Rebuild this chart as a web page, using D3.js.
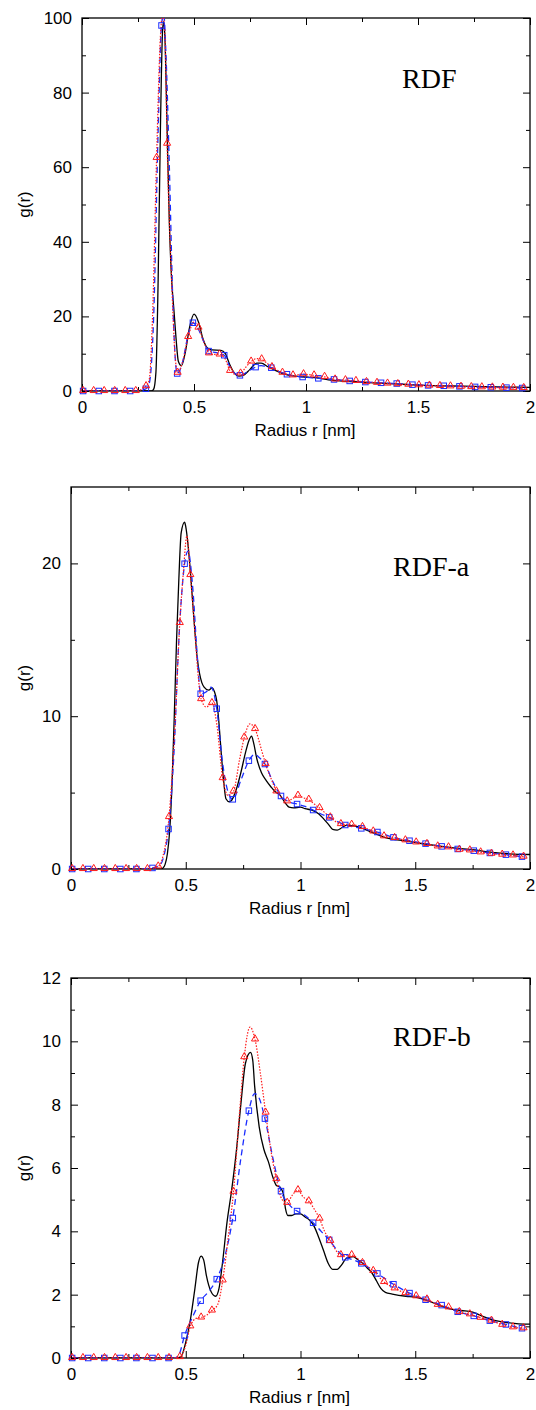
<!DOCTYPE html>
<html>
<head>
<meta charset="utf-8">
<script src="https://cdn.jsdelivr.net/npm/d3@7"></script>
<style>
  body { margin: 0; background: #fff; }
  svg text { font-family: "Liberation Sans", Arial, sans-serif; }
  svg text.panel-name { font-family: "Liberation Serif", "Times New Roman", serif; }
</style>
</head>
<body>
<svg id="chart" width="536" height="1410"></svg>
<script>
// marker x positions (same in all three panels)
var squareX = [0.005, 0.075, 0.145, 0.215, 0.285, 0.355, 0.425, 0.495, 0.565, 0.635, 0.705, 0.775, 0.845, 0.915, 0.985,
  1.055, 1.125, 1.195, 1.265, 1.335, 1.405, 1.475, 1.545, 1.615, 1.685, 1.755, 1.825, 1.895, 1.965];
var triangleX = [0.005, 0.052, 0.099, 0.146, 0.193, 0.240, 0.286, 0.333, 0.380, 0.427, 0.474, 0.520, 0.567, 0.614, 0.661,
  0.708, 0.755, 0.802, 0.848, 0.895, 0.942, 0.989, 1.036, 1.083, 1.130, 1.176, 1.223, 1.270, 1.317, 1.364, 1.410, 1.457,
  1.504, 1.551, 1.598, 1.645, 1.692, 1.738, 1.785, 1.832, 1.879, 1.926, 1.972];

var xTicks = [0, 0.5, 1, 1.5, 2];
var xMinor = [0.25, 0.75, 1.25, 1.75];

// ---- RDF ----
var rdfBlack = [[0,0],[0.31,0],[0.32,0.5],[0.33,5],[0.34,30],[0.35,70],[0.36,97],[0.365,99],[0.37,95],[0.38,70],[0.39,45],
  [0.40,30],[0.41,22],[0.42,14],[0.43,8],[0.444,6.8],[0.46,10],[0.48,17],[0.50,20.6],[0.52,18.5],[0.54,14],[0.56,11.5],
  [0.58,11],[0.62,10.9],[0.64,10],[0.66,7],[0.68,4.8],[0.70,4.0],[0.72,4.2],[0.75,5.8],[0.78,7.5],[0.80,7.5],[0.83,6.5],
  [0.86,5.6],[0.9,4.6],[0.95,4.0],[1.0,3.75],[1.05,3.5],[1.1,3.0],[1.15,2.7],[1.2,2.55],[1.3,2.2],[1.4,1.9],[1.5,1.6],
  [1.6,1.4],[1.7,1.3],[1.8,1.15],[1.9,1.05],[2.0,0.95]];
var rdfBlueSq = [0, 0, 0, 0, 0.6, 98, 4.7, 18.3, 10.7, 9.6, 4.2, 6.4, 6.25, 4.5, 3.75, 3.4, 3.1, 2.7, 2.4, 2.2, 2.0, 1.7,
  1.5, 1.4, 1.25, 1.1, 1.0, 0.9, 0.8];
var rdfBlueExtra = [[0.30,2],[0.32,20],[0.34,70],[0.365,101],[0.375,90],[0.39,60],[0.405,25],[0.415,10],[0.45,8],[0.47,14],
  [0.52,16.5],[0.545,13],[0.60,10.3],[0.66,6.5],[0.685,4.6],[0.74,5.2],[0.80,6.8],[0.82,6.6],[0.88,5.2],[0.95,4.0]];
var rdfRedTri = [0, 0, 0, 0, 0, 0, 1.3, 62.5, 66.3, 4.9, 14.5, 17.0, 10.1, 9.8, 5.4, 4.7, 7.9, 8.5, 6.4, 4.9, 4.2, 4.5, 4.2,
  3.8, 3.1, 2.9, 2.7, 2.4, 2.2, 2.0, 1.85, 1.7, 1.55, 1.45, 1.35, 1.25, 1.15, 1.05, 1.0, 0.95, 0.9, 0.85, 0.8];
var rdfRedExtra = [[0.30,3],[0.315,20],[0.35,95],[0.36,101],[0.37,96],[0.40,30],[0.415,10],[0.45,8],[0.50,18.5],[0.545,13],
  [0.59,9.8],[0.64,8.5],[0.685,4.5],[0.73,6.3],[0.78,8.7],[0.825,7.5]];

// ---- RDF-a ----
var rdfaBlack = [[0,0],[0.39,0],[0.40,0.05],[0.41,0.3],[0.42,1.0],[0.43,2.5],[0.44,5.5],[0.45,10],[0.46,15],[0.47,19],
  [0.48,22.0],[0.495,22.7],[0.50,22.4],[0.51,21.2],[0.52,19.5],[0.53,17.5],[0.54,15.5],[0.55,13.8],[0.56,12.8],[0.57,12.2],
  [0.58,11.9],[0.60,11.7],[0.615,11.85],[0.625,11.6],[0.635,11.0],[0.645,9.5],[0.655,7.5],[0.665,5.8],[0.675,4.6],[0.69,4.4],
  [0.70,4.5],[0.72,5.2],[0.74,6.3],[0.76,7.6],[0.775,8.4],[0.787,8.7],[0.795,8.3],[0.81,7.2],[0.83,6.3],[0.85,5.8],[0.87,5.4],
  [0.89,5.05],[0.91,4.85],[0.93,4.4],[0.95,4.05],[0.97,4.0],[1.0,4.05],[1.02,3.95],[1.05,3.85],[1.08,3.6],[1.10,3.3],
  [1.12,2.95],[1.14,2.6],[1.16,2.55],[1.18,2.7],[1.20,2.85],[1.24,2.8],[1.28,2.6],[1.32,2.35],[1.36,2.1],[1.40,1.95],
  [1.45,1.85],[1.5,1.72],[1.55,1.62],[1.6,1.52],[1.65,1.42],[1.7,1.33],[1.76,1.25],[1.8,1.15],[1.85,1.07],[1.9,1.0],
  [1.95,0.96],[2.0,0.95]];
var rdfaBlueSq = [0, 0, 0, 0, 0, 0.07, 2.62, 19.98, 11.47, 10.49, 4.56, 7.09, 6.87, 4.78, 4.25, 3.86, 3.38, 2.88, 2.66,
  2.42, 2.07, 1.85, 1.66, 1.48, 1.31, 1.2, 1.05, 0.94, 0.81];
var rdfaBlueExtra = [[0.39,0.3],[0.41,1.2],[0.45,8],[0.47,15],[0.51,20.8],[0.53,18.5],[0.55,14],[0.59,11.6],[0.61,11.9],
  [0.66,7.0],[0.685,5.0],[0.74,5.8],[0.80,7.5],[0.82,7.3],[0.88,5.7],[0.95,4.4],[1.02,4.1],[1.09,3.6]];
var rdfaRedTri = [0, 0, 0, 0, 0, 0, 0, 0, 0.17, 3.4, 16.1, 19.24, 11.12, 10.86, 5.95, 5.08, 8.61, 9.16, 6.87, 5.08, 4.43,
  4.8, 4.54, 3.99, 3.38, 2.94, 2.9, 2.75, 2.46, 2.14, 2.03, 1.88, 1.74, 1.64, 1.48, 1.42, 1.26, 1.22, 1.09, 1.0, 0.94,
  0.89, 0.81];
var rdfaRedExtra = [[0.40,0.8],[0.45,8.5],[0.49,19.5],[0.505,21.8],[0.54,15.5],[0.555,12.5],[0.59,10.6],[0.635,9.5],
  [0.685,4.8],[0.735,7.2],[0.78,9.5],[0.83,7.8],[0.875,5.8],[0.92,4.65],[0.97,4.65],[1.015,4.65],[1.06,4.25]];

// ---- RDF-b ----
var rdfbBlack = [[0,0],[0.46,0],[0.48,0.05],[0.50,0.5],[0.52,1.2],[0.54,2.2],[0.555,3.0],[0.567,3.22],[0.578,3.1],
  [0.59,2.6],[0.61,2.1],[0.63,1.95],[0.645,2.2],[0.66,3.0],[0.68,4.3],[0.70,5.3],[0.72,6.5],[0.74,8.0],[0.76,9.3],
  [0.782,9.65],[0.792,9.4],[0.80,8.6],[0.82,7.3],[0.84,6.6],[0.86,6.2],[0.88,5.7],[0.895,5.45],[0.91,5.4],[0.925,5.2],
  [0.935,4.7],[0.945,4.5],[0.96,4.5],[0.98,4.55],[1.0,4.55],[1.02,4.45],[1.04,4.35],[1.06,4.15],[1.08,3.8],[1.10,3.4],
  [1.12,3.0],[1.14,2.8],[1.16,2.8],[1.18,2.95],[1.20,3.15],[1.23,3.2],[1.25,3.1],[1.27,3.0],[1.29,2.85],[1.31,2.7],
  [1.33,2.45],[1.35,2.2],[1.37,2.07],[1.40,2.02],[1.46,1.95],[1.5,1.92],[1.55,1.82],[1.6,1.68],[1.65,1.55],[1.7,1.5],
  [1.75,1.45],[1.8,1.3],[1.85,1.18],[1.9,1.12],[1.95,1.08],[2.0,1.07]];
var rdfbBlueSq = [0, 0, 0, 0, 0, 0, 0, 0.71, 1.81, 2.49, 4.42, 7.81, 7.56, 5.27, 4.64, 4.27, 3.73, 3.18, 2.99, 2.67,
  2.33, 2.05, 1.84, 1.67, 1.46, 1.33, 1.18, 1.06, 0.94];
var rdfbBlueExtra = [[0.45,0],[0.47,0.1],[0.53,1.3],[0.60,2.1],[0.67,3.2],[0.74,6.3],[0.80,8.35],[0.82,8.2],[0.88,6.3],
  [0.95,4.85],[1.02,4.5],[1.09,4.0],[1.16,3.4],[1.23,3.1]];
var rdfbRedTri = [0, 0, 0, 0, 0, 0, 0, 0, 0, 0, 0.03, 1.0, 1.28, 1.5, 2.45, 5.25, 9.5, 10.06, 7.75, 5.65, 4.9, 5.3, 4.95,
  4.4, 3.7, 3.25, 3.25, 3.0, 2.75, 2.4, 2.2, 2.05, 1.95, 1.85, 1.68, 1.6, 1.45, 1.38, 1.27, 1.18, 1.05, 0.97, 0.94];
var rdfbRedExtra = [[0.50,0.4],[0.545,1.25],[0.59,1.35],[0.64,1.7],[0.685,3.8],[0.735,7.8],[0.78,10.45],[0.825,9.0],
  [0.87,6.6],[0.92,5.0],[0.965,5.15],[1.01,5.1],[1.06,4.7],[1.105,4.0],[1.15,3.45],[1.20,3.25]];

var panels = [
  { name: "RDF", left: 82, right: 530, top: 18, bottom: 391, yMax: 100, nameX: 402, nameY: 88,
    yTicks: [0, 20, 40, 60, 80, 100], yMinor: [10, 30, 50, 70, 90],
    black: rdfBlack, blue: rdfBlueSq, blueExtra: rdfBlueExtra, red: rdfRedTri, redExtra: rdfRedExtra },
  { name: "RDF-a", left: 71, right: 530, top: 487, bottom: 869, yMax: 25, nameX: 393, nameY: 576,
    yTicks: [0, 10, 20], yMinor: [5, 15],
    black: rdfaBlack, blue: rdfaBlueSq, blueExtra: rdfaBlueExtra, red: rdfaRedTri, redExtra: rdfaRedExtra },
  { name: "RDF-b", left: 71, right: 530, top: 978, bottom: 1358, yMax: 12, nameX: 393, nameY: 1046,
    yTicks: [0, 2, 4, 6, 8, 10, 12], yMinor: [1, 3, 5, 7, 9, 11],
    black: rdfbBlack, blue: rdfbBlueSq, blueExtra: rdfbBlueExtra, red: rdfbRedTri, redExtra: rdfbRedExtra }
];

var svg = d3.select("#chart");
var blueColor = "#1a2cff", redColor = "#ff1a1a";

panels.forEach(function(p, i) {
  var x = d3.scaleLinear().domain([0, 2]).range([p.left, p.right]);
  var y = d3.scaleLinear().domain([0, p.yMax]).range([p.bottom, p.top]);
  var g = svg.append("g");

  var clipId = "clip" + i;
  g.append("clipPath").attr("id", clipId)
    .append("rect")
    .attr("x", p.left).attr("y", p.top)
    .attr("width", p.right - p.left).attr("height", p.bottom - p.top);

  // axes: major + minor ticks on all four sides, pointing inward
  var fmt = d3.format("");
  function addAxis(axis, tx, ty, labels) {
    var a = g.append("g").attr("transform", "translate(" + tx + "," + ty + ")").call(axis);
    a.select(".domain").remove();
    a.selectAll("line").attr("stroke", "#000").attr("stroke-width", 1);
    a.selectAll("text").attr("font-size", 17).attr("fill", "#000");
    if (!labels) a.selectAll("text").remove();
    return a;
  }
  var xb = addAxis(d3.axisBottom(x).tickValues(xTicks).tickSize(-7).tickFormat(fmt), 0, p.bottom, true);
  xb.selectAll("text").attr("dy", "0.71em").attr("y", 10);
  addAxis(d3.axisBottom(x).tickValues(xMinor).tickSize(-4).tickFormat(""), 0, p.bottom, false);
  addAxis(d3.axisTop(x).tickValues(xTicks).tickSize(-7).tickFormat(""), 0, p.top, false);
  addAxis(d3.axisTop(x).tickValues(xMinor).tickSize(-4).tickFormat(""), 0, p.top, false);
  var yl = addAxis(d3.axisLeft(y).tickValues(p.yTicks).tickSize(-7).tickFormat(fmt), p.left, 0, true);
  yl.selectAll("text").attr("x", -10);
  addAxis(d3.axisLeft(y).tickValues(p.yMinor).tickSize(-4).tickFormat(""), p.left, 0, false);
  addAxis(d3.axisRight(y).tickValues(p.yTicks).tickSize(-7).tickFormat(""), p.right, 0, false);
  addAxis(d3.axisRight(y).tickValues(p.yMinor).tickSize(-4).tickFormat(""), p.right, 0, false);

  // frame
  g.append("rect")
    .attr("x", p.left).attr("y", p.top)
    .attr("width", p.right - p.left).attr("height", p.bottom - p.top)
    .attr("fill", "none").attr("stroke", "#000").attr("stroke-width", 1.3);

  // axis titles
  g.append("text")
    .attr("x", (p.left + p.right) / 2 - 1).attr("y", p.bottom + 45)
    .attr("text-anchor", "middle").attr("font-size", 17)
    .text("Radius r [nm]");
  g.append("text")
    .attr("transform", "translate(30," + ((p.top + p.bottom) / 2) + ") rotate(-90)")
    .attr("text-anchor", "middle").attr("font-size", 17)
    .text("g(r)");

  // panel label
  g.append("text")
    .attr("class", "panel-name")
    .attr("x", p.nameX).attr("y", p.nameY)
    .attr("font-size", 28)
    .text(p.name);

  var line = d3.line()
    .x(function(d) { return x(d[0]); })
    .y(function(d) { return y(d[1]); })
    .curve(d3.curveMonotoneX);

  var blueMarks = squareX.map(function(v, k) { return [v, p.blue[k]]; });
  var redMarks = triangleX.map(function(v, k) { return [v, p.red[k]]; });
  var blueLine = blueMarks.concat(p.blueExtra).sort(function(a, b) { return a[0] - b[0]; });
  var redLine = redMarks.concat(p.redExtra).sort(function(a, b) { return a[0] - b[0]; });

  var plot = g.append("g").attr("clip-path", "url(#" + clipId + ")");

  plot.append("path").datum(p.black)
    .attr("d", line).attr("fill", "none")
    .attr("stroke", "#000").attr("stroke-width", 1.3);

  plot.append("path").datum(blueLine)
    .attr("d", line).attr("fill", "none")
    .attr("stroke", blueColor).attr("stroke-width", 1.3)
    .attr("stroke-dasharray", "6,4");

  plot.append("path").datum(redLine)
    .attr("d", line).attr("fill", "none")
    .attr("stroke", redColor).attr("stroke-width", 1.2)
    .attr("stroke-dasharray", "1.5,1.5");

  var sq = 5.5;
  g.selectAll(".sq").data(blueMarks).enter()
    .append("rect")
    .attr("x", function(d) { return x(d[0]) - sq / 2; })
    .attr("y", function(d) { return y(d[1]) - sq / 2; })
    .attr("width", sq).attr("height", sq)
    .attr("fill", "none").attr("stroke", blueColor).attr("stroke-width", 1);

  var tri = d3.symbol().type(d3.symbolTriangle).size(22);
  g.selectAll(".tri").data(redMarks).enter()
    .append("path")
    .attr("d", tri)
    .attr("transform", function(d) { return "translate(" + x(d[0]) + "," + (y(d[1]) - 0.5) + ")"; })
    .attr("fill", "none").attr("stroke", redColor).attr("stroke-width", 1);
});
</script>
</body>
</html>
